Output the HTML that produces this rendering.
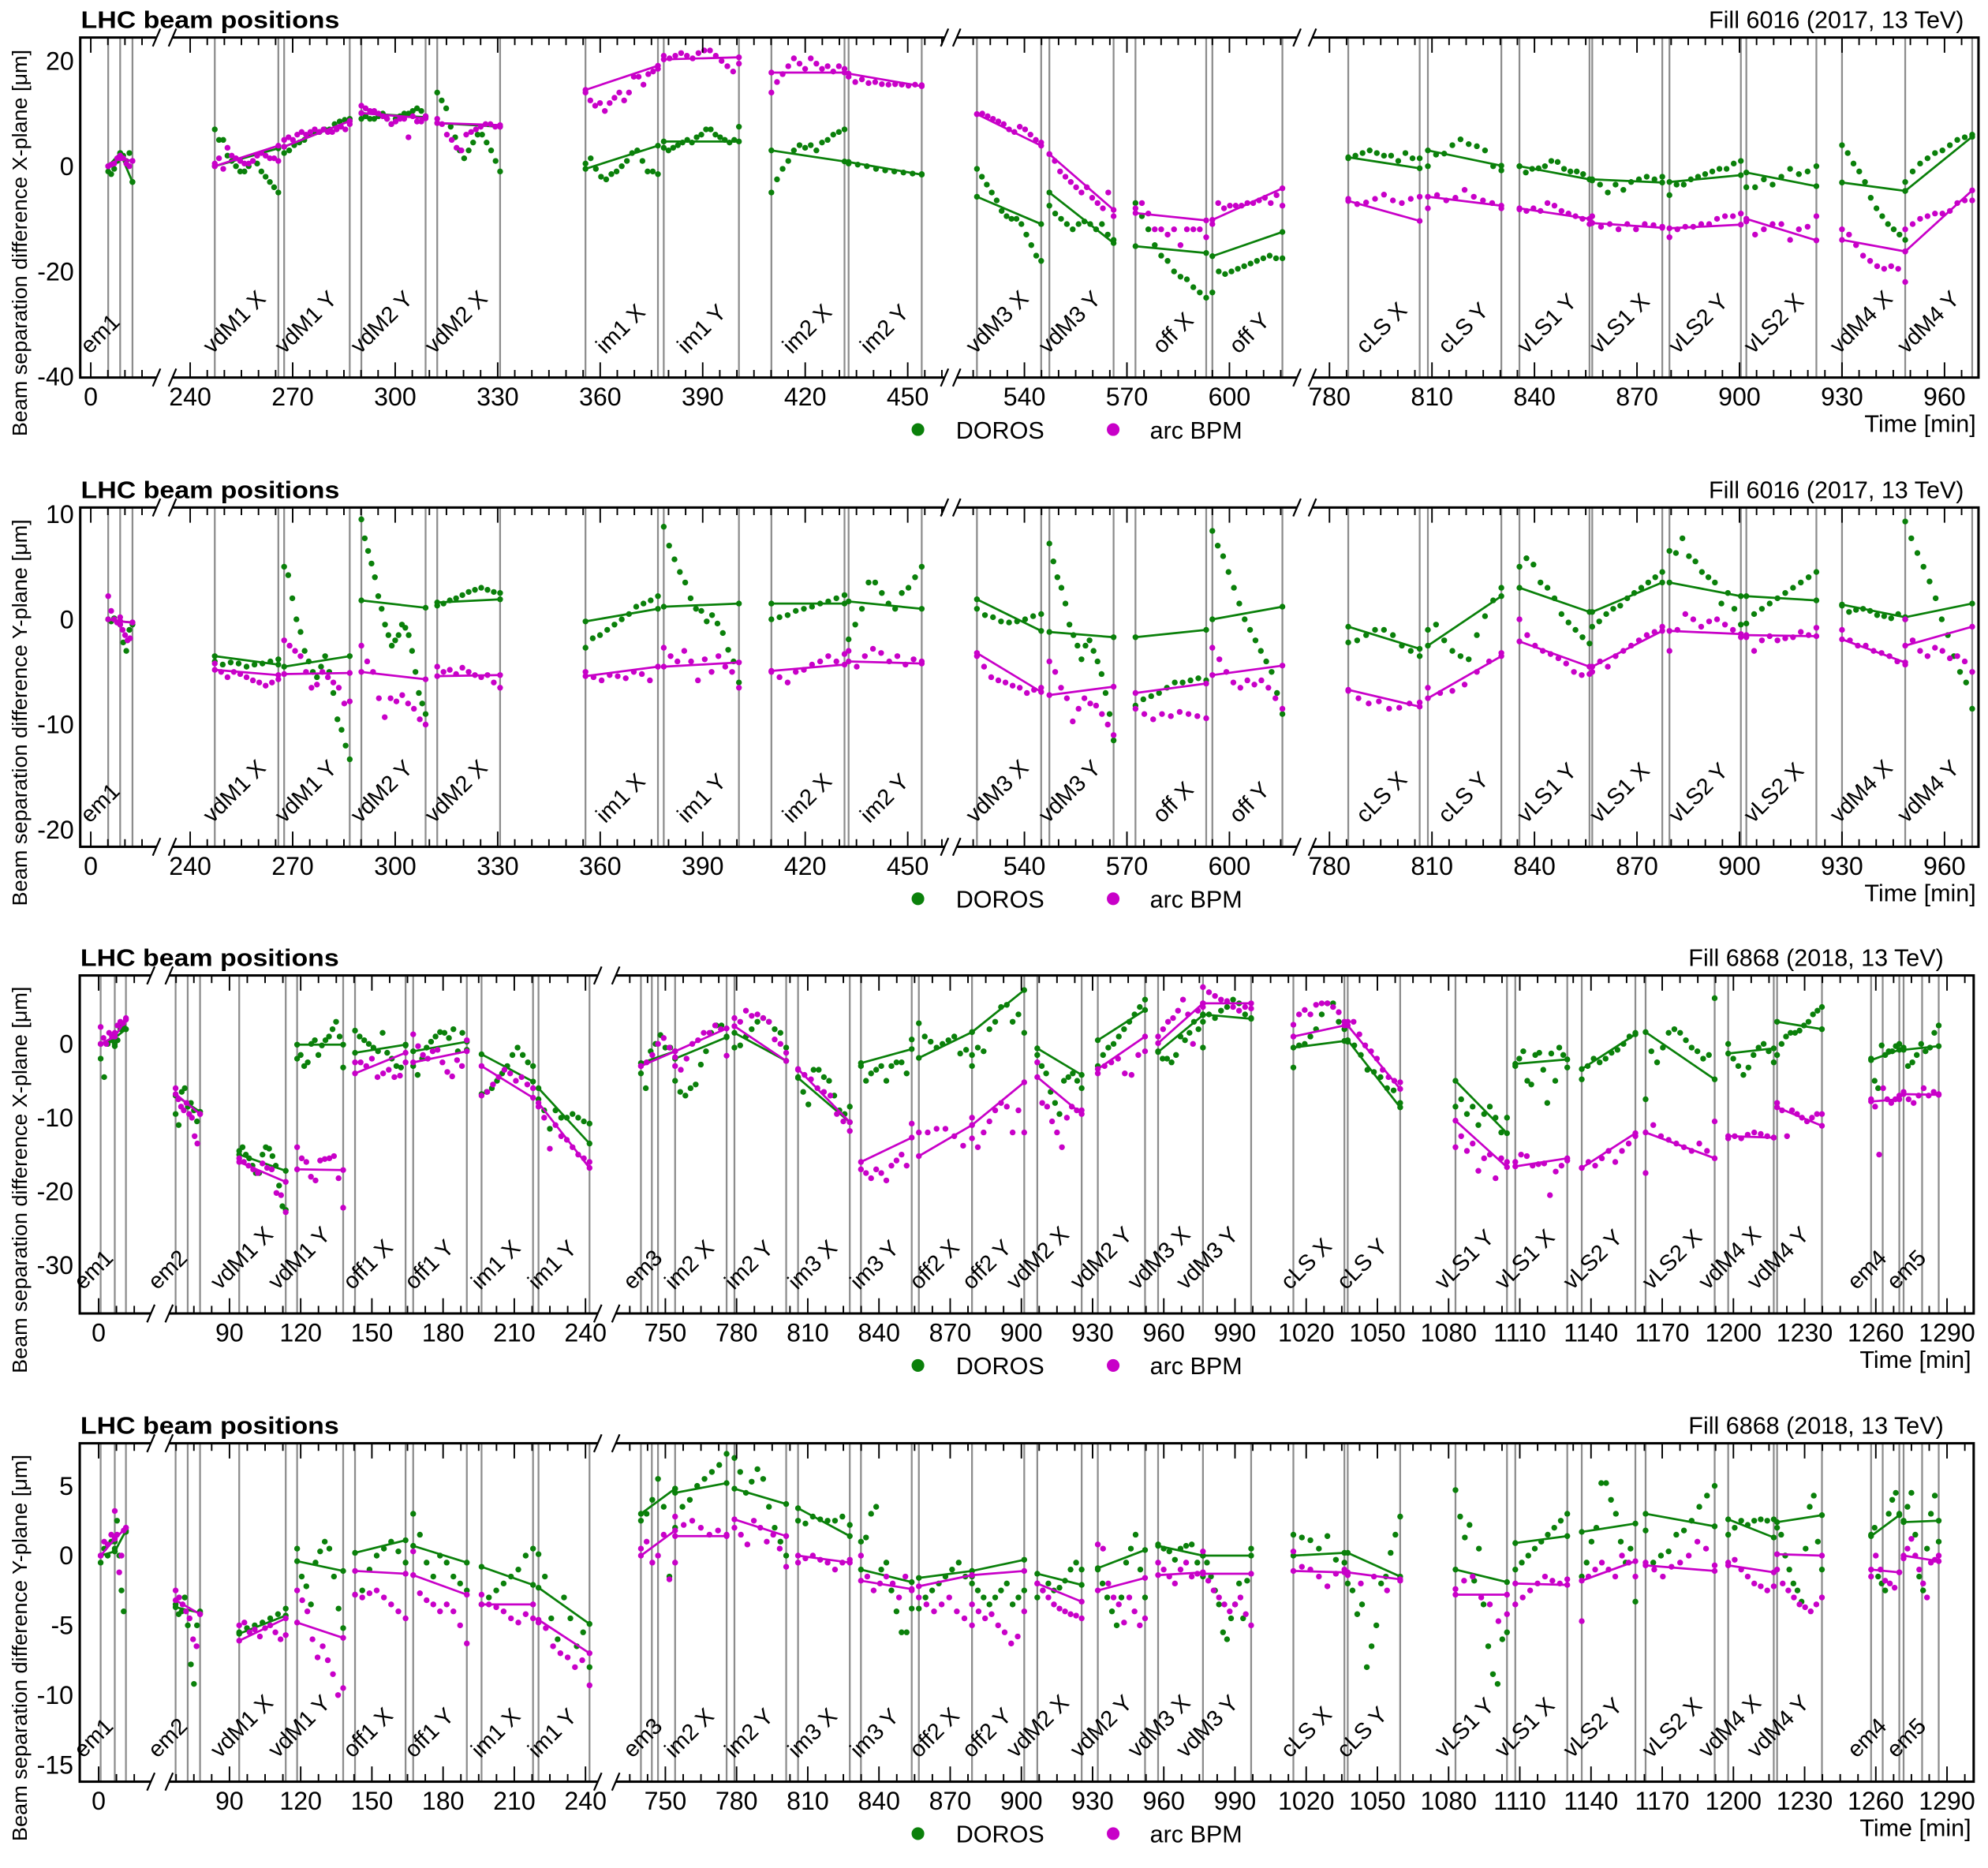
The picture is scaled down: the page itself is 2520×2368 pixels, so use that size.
<!DOCTYPE html>
<html><head><meta charset="utf-8"><title>LHC beam positions</title>
<style>
html,body{margin:0;padding:0;background:#fff;}
svg{display:block;font-family:"Liberation Sans",Arial,sans-serif;}
</style></head>
<body>
<svg id="chart" xmlns="http://www.w3.org/2000/svg" width="2520" height="2368" viewBox="0 0 1568 1473.4" preserveAspectRatio="none"></svg>
<script>
// ---------- Fill 6016 scans (minutes) ----------
const F1_t0=[5.1,8.6,247.2,267.5,290.1,312.3,355.7,378.6,410.1,432.7,526.1,547.3,572.5,595,785.5,808.8,835.6,856.9,879.5,902,930,948.5];
const F1_t1=[8.6,12.2,265.8,286.7,308.9,330.7,376.9,400.6,431.5,454.1,544.9,566.1,593.2,615.5,806.4,830.3,856.1,877.4,900.4,922.5,948.5,968.1];
const F1_lab=["","em1","vdM1 X","vdM1 Y","vdM2 Y","vdM2 X","im1 X","im1 Y","im2 X","im2 Y","vdM3 X","vdM3 Y","off X","off Y","cLS X","cLS Y","vLS1 Y","vLS1 X","vLS2 Y","vLS2 X","vdM4 X","vdM4 Y"];
const F1_vlines=[5.1,8.6,12.2,247.2,265.8,267.5,286.7,290.1,308.9,312.3,330.7,355.7,376.9,378.6,400.6,410.1,431.5,432.7,454.1,526.1,544.9,547.3,566.1,572.5,593.2,595,615.5,785.5,806.4,808.8,830.3,835.6,856.1,856.9,877.4,879.5,900.4,902,922.5,930,948.5,968.1];
// ---------- Fill 6868 scans ----------
const F2_t0=[0.85,6.8,67.3,94.1,118.5,142.9,167.4,196.2,220.2,739.7,754.1,779.1,805.9,832.4,856.8,879.2,906.7,932.2,957.6,976.5,1014.6,1037.5,1082.9,1108.1,1136.1,1163,1197.8,1218.4,1258,1271.7];
const F2_t1=[6.8,11.5,77.6,113.7,137.9,164.2,190,217.9,241.7,754.1,775.8,800.9,827.7,853.8,879.2,901.2,925.4,952.1,976.5,996.8,1036.1,1059.6,1104.6,1130,1158.7,1192.1,1217,1237.3,1269.9,1286.5];
const F2_lab=["","em1","em2","vdM1 X","vdM1 Y","off1 X","off1 Y","im1 X","im1 Y","em3","im2 X","im2 Y","im3 X","im3 Y","off2 X","off2 Y","vdM2 X","vdM2 Y","vdM3 X","vdM3 Y","cLS X","cLS Y","vLS1 Y","vLS1 X","vLS2 Y","vLS2 X","vdM4 X","vdM4 Y","em4","em5"];
const F2_vlines=[0.85,6.8,11.5,67.3,72.4,77.6,94.1,113.7,118.5,137.9,142.9,164.2,167.4,190,196.2,217.9,220.2,241.7,739.7,744.3,746.9,754.1,775.8,779.1,800.9,805.9,827.7,832.4,853.8,856.8,879.2,901.2,906.7,925.4,932.2,952.1,957.6,976.5,996.8,1014.6,1036.1,1037.5,1059.6,1082.9,1104.6,1108.1,1130,1136.1,1158.7,1163,1192.1,1197.8,1217,1218.4,1237.3,1258,1262.9,1269.9,1271.7,1279.5,1286.5];

// ---------- Panel 1: X-plane, fill 6016 ----------
const P1_dLine=[[0,2.5],[2.5,-3],[0,3.4],[3.7,8.6],[10.1,9.3],[8.2,7.5],[-0.5,3.9],[4.7,4.7],[3,0.9],[0.8,-1.6],[-5.8,-11],[-5,-14.6],[-15.2,-16.5],[-17.1,-12.5],[1.7,-0.4],[3,0.1],[0,-2.5],[-2.5,-3.1],[-3,-1.7],[-1.2,-3.8],[-3.1,-4.7],[-4.7,5.6]];
const P1_bLine=[[0,1.5],[1.5,1],[0,3.9],[3.7,8.6],[10.1,9.1],[8.2,7.8],[14.5,19.1],[20.3,20.7],[17.8,17.8],[17.6,15.2],[9.9,3.9],[2.3,-8.3],[-8.9,-10.3],[-10.2,-4.2],[-6.6,-10.4],[-5.8,-7.5],[-8,-10],[-10.8,-11.7],[-11.8,-11.1],[-10,-14.1],[-14,-16.2],[-16.2,-4.6]];
const P1_dor=[[-1,-1.5,-0.5,1,2.5],[1.5,2,1,2.5,-3],[7,5,5,2,1,0,-1,-1,0,1,0.5,-1,-2,-3,-4,-5],[2.5,3,4,4.5,5,6,6.5,6.5,7,7,8,8.5,8.8,9],[9,9.5,9,9,9.5,10,9,8,9,9.5,10,10,10.5,11,10.5,9.5],[14,12.5,11,7.5,5.5,3,1.5,3,4.5,6,6,4.5,3,1,-1],[0.5,1.5,-0.5,-2,-2.5,-1.5,-1,0,1,2.5,3,1,-1,-1,-1.5],[3.5,3,3.5,4,4.5,5,4.5,5.5,6,7,7,6,5.5,5,4.5,5,7.5],[-5,-2.5,-0.5,1,3,4,3.5,4,3,4.5,5,6,6.5,7],[0.5,0.3,0,-0.5,-0.8,-1,-1.2,-1.4,-1.5],[-0.5,-2,-3.5,-5,-6.5,-8.5,-9.5,-10,-10,-11,-13,-15,-17,-18],[-7.5,-9,-10,-11,-12,-11,-10.5,-11,-12,-11,-13,-14],[-7,-9.5,-12,-15,-17,-18,-20,-21,-21.5,-23,-24,-25],[-24,-20,-20.5,-20,-19.5,-19,-18.5,-18,-17.5,-17,-17.5,-17.5],[1.5,2,2.5,3,2.5,2,2,1,2.5,1.5,1.5],[0,2.2,2.4,4,5.1,4.2,3.8,3,0,-0.8],[0,-1.2,-0.5,-0.4,0,1,0.8,-0.5,-1,-1,-1.5,-2.5],[-2.7,-3.5,-5,-3.5,-4.5,-3,-2.5,-2,-2.5,-2],[-5.5,-3.5,-3.5,-2.5,-2,-1.5,-1,-0.5,-0.5,0.5,1],[-4,-4,-2.5,-3.5,-2,-0.5,-1.5,-1,0],[4,2.5,0.5,-1,-3,-6,-8,-9.5,-11,-12,-13,-14],[-3,-1,0.5,1.5,2.5,3,4,5,5.5,6]];
const P1_bpm=[[0,0.3,0.5,1.5,2],[1.5,1.5,0.5,0,1],[0.5,1.5,-0.5,3.5,2,1.5,1,0.5,0.5,1,2,2.5,2,1.5,1.5,1],[5,5.5,5,6,6.5,6,6.5,7,6.5,7,6.5,6.5,7,7.5,7,8],[11.5,11,10.5,10.5,10,9.5,9,8,8.5,9,9,5.5,9.5,8.5,8.5,9.5],[9,8,6,5,3.5,3,6,6.5,7,7.5,8,8,7.5,7.5],[14,12.5,11.5,12,10.5,12,13,14,12.5,14,17,17,15.5,17.5,18,18.5],[21,20.5,21,21.5,21,20.5,21.5,22,22,21,20,19,18,19.5],[14,16,17.5,19,20.5,19.5,18.5,20.5,19.5,18.5,19,18,19,18.5],[17,16,16.5,15.8,16,15.6,15.5,15.6,15.5,15.3,15.5,15.4],[9.9,10,9.5,9,8.5,8,7,6.5,7.5,7,6,5,4.5],[2.3,1,-1,-2,-3,-4,-5,-4,-6,-7,-8,-5,-9.5],[-8,-7,-9,-12,-12,-13,-12,-15,-12,-12,-12,-13.5],[-11,-7,-8,-7.5,-7.5,-7.5,-7,-7,-6.5,-6,-7,-5.5,-7.5],[-6.2,-7.2,-6.9,-6.2,-5.4,-6.5,-7,-6.2,-5.8],[-8,-5.5,-6.5,-6,-4.5,-5.8,-6.5,-7,-8],[-8.2,-8.5,-8,-8.5,-7,-7.5,-8.5,-9,-9.5,-10,-11],[-9.5,-11.5,-11,-12,-11,-12,-11,-11.2,-11.5],[-13.5,-12,-11.5,-11.5,-11,-11,-10,-9.5,-9.5,-9],[-10.5,-13,-12,-11,-11,-14,-12,-11.5,-9.5],[-12,-13,-15,-17,-18,-19,-19.5,-19,-19.5,-22],[-12,-11,-10,-9.5,-9,-9,-8.5,-7,-6.5,-6.5]];

// ---------- Panel 2: Y-plane, fill 6016 ----------
const P2_dLine=[[0,-0.2],[-0.2,-0.3],[-3.5,-4.3],[-4.5,-3.5],[1.8,1.1],[1.6,1.9],[-0.2,1],[1.2,1.5],[1.5,1.5],[1.7,1],[1.9,-1.1],[-1.2,-1.7],[-1.7,-1],[0,1.2],[-0.7,-2.8],[-2.5,2.2],[3,0.7],[0.7,3.5],[3.5,2.2],[2.2,1.8],[1.4,0.2],[0.2,1.5]];
const P2_bLine=[[0,-0.2],[-0.2,-0.3],[-4.8,-5.3],[-5.2,-5.1],[-5,-5.7],[-5.4,-5.3],[-5.4,-4.5],[-4.5,-4.1],[-4.9,-4.3],[-4,-4.2],[-3.2,-6.9],[-7.2,-6.4],[-7,-6.1],[-5.3,-4.4],[-6.7,-8.3],[-7.5,-3.5],[-2.1,-4.5],[-4.5,-1.1],[-1.1,-1.4],[-1.5,-1.6],[-1.9,-4.1],[-2.5,-0.7]];
const P2_dor=[[0,-0.2,0.1,-0.3,-0.2],[-0.5,-2.2,-3,-1,-0.5],[-4,-4.3,-4.1,-4.2,-4.5,-4.3,-4.2,-4,-3.8],[5,4.2,2,0,-1.2,-3,-4,-5,-5.5,-4.5,-3.5,-5,-7,-9.5,-10.5,-12,-13.3],[9.5,7.7,6.5,5.3,4,2.2,1,-0.5,-1.5,-2.5,-2,-1.5,-0.5,-0.8,-1.5,-3,-5,-7,-8,-9],[1.3,1.5,1.8,2,2.3,2.6,2.8,3,2.8,2.6,2.5],[-2.7,-1.8,-1.5,-1,-0.5,0,0.5,1.2,1.5,1.8,2.2],[8.8,7,5.7,4.5,3.5,2,1,0.8,-0.2,0.4,-0.4,-1.3,-2.9,-4,-6],[0,0.2,0.4,0.8,1,1.2,1.5,1.7,2,2.3],[-1.9,-0.5,1,3.5,3.5,2.5,1.5,1,2.5,3,4,5],[1,0.4,0.2,-0.2,-0.3,-0.2,0,0.3,0.5],[7.2,5.5,4,3,1.5,-0.5,-1.5,-2.5,-3.8,-2.5,-2,-3,-4,-5.2,-7,-9,-11.5],[-8.2,-7.6,-7.3,-7,-6.5,-6,-6,-5.8,-5.6,-5.8],[8.4,7,6,4.5,3,1.5,0,-1,-2,-3,-4,-5,-7,-9],[-2.2,-2,-1.5,-1,-1,-1.5,-2.5,-3,-3.5],[-1,-0.5,-2,-3,-3.5,-3.8,-1.5,0.3,1.8,3],[5,5.8,5.2,3.5,3,2,0.5,-0.3,-1,-1.7,-2.3],[-0.7,-0.2,0.5,1,1.3,2,2.5,3,3.5,4,4.5],[6.5,6.3,7.7,6,5.5,4.5,4,3.5,1.5,2.5,1,-0.5],[-0.4,0.5,1,1.5,2,2.5,3,3.5,4,4.5],[1.3,0.7,0.9,1,0.8,0.4,0.3,0.1,0.5,0],[9.3,7.7,6.3,5,3.6,2,0,-1.5,-3.5,-5,-6,-8.5]];
const P2_bpm=[[2.2,0.8,0,-0.3,0.2],[-0.5,-1,-1.5,-2,-1.8,-0.3],[-4.2,-5,-5.5,-5,-5.2,-5.5,-5.8,-6,-6.3,-6,-5.7],[-2,-2.5,-3,-3.5,-5,-6.5,-6.2,-5,-5.5,-6,-6.5,-8,-7.8],[-2.5,-4,-5,-7.5,-9.3,-7.5,-7.8,-7.2,-8,-8.5,-9.5,-10],[-4.5,-5,-4.8,-5.2,-4.6,-5,-5.3,-5.5,-5.3,-6,-6.5],[-5,-5.5,-5.8,-5.3,-5.4,-5.6,-5,-5.2,-5.8,-4.5],[-2.7,-3.5,-4,-3,-4,-5.8,-3.8,-5,-3.5,-4.5,-5,-6.5],[-5,-5.5,-6,-5,-4.8,-4.3,-4,-3.5,-4,-3.3],[-3,-4.5,-3.5,-2.8,-3.2,-4,-3.5,-4.3,-3.8,-4],[-3.5,-4.5,-5.5,-5.8,-6,-6.3,-6.5,-7,-6.7,-6.5],[-4,-5,-6.5,-7.5,-9.7,-8.5,-7.5,-8,-8.2,-9,-10,-11],[-8.5,-9,-9.5,-9,-9.2,-8.8,-9,-9.2,-9.4],[-2.7,-3.8,-5,-6,-6.5,-5.8,-6.2,-5.8,-6.5,-7.5,-8.5],[-6.8,-7.5,-8,-7.8,-8.5,-8.4,-8,-7.9],[-6.5,-7,-6.8,-6.2,-5,-4,-3.2],[0,-1.5,-2.5,-3,-3.3,-3.7,-4.2,-5,-5.3,-5.2],[-5,-4,-4.5,-3.5,-3,-2.5,-2,-1.5,-1.2,-0.7],[-3,-1,0.5,0,-0.7,-0.2,0,-0.5,-1,-1.7],[-1.7,-3,-2,-1.6,-2,-1.8,-1.7,-1.2,-1.5,-0.8],[-1,-2,-2.5,-2.5,-3,-3.2,-3.5,-4,-4.3],[0,-2,-3,-3.5,-2.7,-3,-3.7,-3.5,-4,-5]];

// ---------- Panel 3: X-plane, fill 6868 ----------
const P3_dLine=[[0,0.8],[0.8,2],[-7,-9.2],[-15,-17.2],[-0.1,-0.1],[-1.2,-0.1],[-1,0.3],[-1.4,-5.1],[-6,-13.5],[-2.6,-1],[-2,0.9],[1.5,-2.3],[-4.6,-10.6],[-2.6,-0.7],[-1.9,1.6],[1.6,7.3],[-0.6,-4.2],[0.5,4.6],[-1.1,3.9],[4,3.4],[-0.5,0.4],[0.5,-8.6],[-5,-12.1],[-2.7,-2.1],[-3.4,1.3],[1.6,-4.8],[-1.3,-0.6],[3,2],[-2.2,-0.8],[-0.8,-0.3]];
const P3_bLine=[[0,1],[1,3.3],[-6.8,-9.5],[-16,-18.7],[-17,-17.1],[-4,-1.2],[-2.5,-1],[-3,-7.3],[-8,-16.8],[-3,-1],[-1,2.1],[2.4,-2.3],[-3.4,-10.6],[-16,-12.7],[-15.2,-11],[-11,-5.2],[-4.5,-9.5],[-3.4,1],[0.1,5.5],[5.5,5.5],[1,2.5],[2.5,-6.1],[-10.4,-16.7],[-16.6,-15.5],[-16.8,-12.1],[-12,-15.5],[-12.5,-12.7],[-8.6,-11.1],[-7.8,-7.5],[-6.8,-6.9]];
const P3_dor=[[-2,-4.5,0,0.5,-0.3],[0,0.5,2,2.5,2],[-9.5,-11,-6.5,-6,-8.5,-8,-9,-10.5,-9.2],[-14.5,-14,-15,-15.5,-16.5,-17.5,-17.5,-15,-14,-14.2,-15.2,-16.5,-19.2,-22,-22.5],[-2,-1.5,-3,-2.5,0,0.5,-1.5,-0.2,0.5,1,2,3,1,-3.2],[1.8,1,0.5,0,-0.5,-1,1.5,-1.2,-2,-3,-3.2,-0.2],[-3,-4.2,-2,-0.5,0.3,1,1.6,1.5,0.8,2,-1,1.5,-0.8],[-6.8,-6.5,-6,-5,-4,-3,-1.5,-0.5,-1.5,-2.5,-3],[-7.5,-9,-11.5,-9,-10,-10,-9.5,-10,-10.5,-10.8],[-4,-6,-1,0,1.2,-0.5,-0.5,-1],[-5,-6.5,-7,-6,-5.5,-2.8,-1,1.5,2.5,2.5,1],[-0.5,-0.2,1,2,3,3.5,3,2,1.5,-0.5],[-4.5,-6.5,-8.2,-3.5,-3.5,-4.5,-5,-7,-9,-9.5,-8.5],[-3,-5,-4,-3.5,-3,-5,-3,-2.5,-2.5,-4,0.6],[2.8,1,0.3,-0.5,0,0.5,1,-1.3,-0.8,-1.5],[-3,-0.5,-1,2,3,5,5.3,3,4,1.5],[-1.5,-3,-4,-6.5,-8,-9.5,-5,-4.5,-4,-5,-6],[-3,-1.5,-0.5,0,1,2,3,4,5,6],[-1,-2,-2,-2.5,-1.5,1,0.5,1.5,3,2,-0.5],[3,4,3.5,4.5,5,6,5.5,4,3.5],[-3.2,-0.2,0,1,2,4,5.5,5.5,3,2],[0.3,-0.2,-1.5,-3.5,-3.8,-4.5,-6,-6.3,-8],[-8.5,-7.5,-9.5,-8.5,-11,-9.5,-8.5,-10,-12,-10],[-3,-2,-1,-5,-5.5,-1.5,-1.2,-3.5,-8,-1.3,-5,-0.5,-1.5,-3.2],[-4.8,-3,-2,-2.5,-2,-1.2,-0.8,0,1,1.5],[-7.5,-1,-2.5,-0.5,1.5,2,1.5,0.5,-0.5,-1,-2,-1.5,6.2],[0,-2,-3,-4.2,-3.2,-1.5,-0.5,0,-1,-2.5],[-1.5,0,1,1.5,1.5,1.8,2.5,3,4,4.5,5],[-2,-5,-6,-0.2,-1.5,-1,-1,-0.3,0],[-0.5,-3,-2.5,-1.5,0,-1,-0.5,1.5,2.5]];
const P3_bpm=[[2.3,0.8,0,1.5,1,1],[1.5,2.5,3,2.8,3.5],[-6,-7.5,-8.5,-9,-8,-9.5,-10,-12.5,-13.5,-9.5],[-15.5,-16,-16.5,-17,-17.5,-16.2,-16.8,-17,-20.2,-20.5,-22.8],[-14,-15.5,-16,-18,-18.5,-15.8,-15.6,-15.5,-15.2,-18.2,-22.2],[-2.5,-2.5,-3,-2,-4.5,-4,-3.5,-4.5,-4.3,-2.5],[1.3,-0.3,-1.5,-2,-1,-0.8,-2.5,-3.8,-4.4,-2.2,-3,0.5],[-7,-6.5,-5.5,-4.5,-3.5,-4,-5,-4.5,-5.5,-6],[-8.5,-10,-14.2,-11,-12.5,-13,-14,-15,-15.5,-16],[-3,-2.5,-1.5,0,0.8,-0.5,-1.8],[-3,-3.5,-2,0,0.5,1.5,1.5,2.5,2,-1.6],[3.5,3,4.5,3.8,4,3.5,3,0.6,0,-1.2],[-3.5,-4.2,-4.8,-6,-6.5,-7,-9.5,-10.5,-11.8],[-17,-17.5,-18.2,-17,-17.5,-18.5,-16.5,-15.8,-15,-16.5,-10.8],[-12,-12,-11.5,-11.5,-12.5,-13.8,-12.8],[-10,-14,-12,-10.5,-9,-8,-8.5,-12,-9,-12],[-2.5,-8,-8.5,-10.5,-12,-14,-10,-8.5,-9,-9],[-4,-3,-2.5,-2,-4,-4.2,-1.5,-1],[1,2,3,3.5,4.5,6,4,0,4.5,5],[7.7,7,6.5,6,5.8,5,4.5,5,4.8],[2.6,4,4.6,4,5.3,5.5,5.5,5,4.3,3],[3,3,1.3,-0.2,-1,-2,-3.5,-4.5,-5,-5.2],[-14,-12.5,-14.5,-13.5,-17.2,-15.5,-15,-18.2,-15.5,-16],[-16,-15,-15.2,-16.5,-16.3,-16.2,-20.5,-17.3,-16.5,-15.8],[-16.8,-16,-16.5,-15.5,-14.5,-16,-14.5,-13.5,-12.5],[-17.5,-11,-12.5,-13,-13.5,-14,-14.5,-13.5,-14.5,-10.5],[-12.8,-12.5,-12.8,-12.3,-12,-12.2,-12.5,-12.7],[-8,-9,-12.5,-9,-9.5,-10,-10.5,-10,-9.5,-9.5],[-7.5,-8.5,-15,-6,-7.5,-8,-7.5,-7],[-6.5,-7.5,-8,-7,-6,-7,-6.5,-6.8]];

// ---------- Panel 4: Y-plane, fill 6868 ----------
const P4_dLine=[[0,0.3],[0.3,1.8],[-3.7,-4.1],[-5.6,-4.3],[-0.4,-1.1],[0.2,1.1],[0.7,-0.5],[-0.8,-2.1],[-2.3,-4.9],[3,4.8],[4.5,5.2],[4.8,3.7],[3.4,1.4],[-1,-1.9],[-1.6,-1.1],[-1.1,-0.3],[-1.3,-2.1],[-0.9,0.4],[0.7,0],[0,0],[0,0.2],[0.2,-1.5],[-1,-1.9],[0.9,1.4],[1.7,2.3],[3,2.1],[2.6,1.3],[2.4,2.9],[1.4,2.9],[2.4,2.5]];
const P4_bLine=[[0,1.2],[1.2,2],[-3.2,-4.2],[-6.1,-4.5],[-4.8,-5.9],[-1.1,-1.3],[-1.4,-2.8],[-3.5,-3.5],[-4.6,-7],[0,1.8],[1.4,1.4],[2.6,1.4],[0,-0.5],[-1.8,-2.4],[-2.2,-1.4],[-1.4,-1.1],[-2,-3.3],[-2.5,-1.6],[-1.4,-1.2],[-1.3,-1.3],[-1.1,-1.2],[-1.2,-1.7],[-2.8,-2.8],[-2,-2.1],[-1.8,-0.4],[-0.7,-1.1],[-0.7,-1.2],[0.1,0],[-1,-1.2],[0,-0.4]];
const P4_dor=[[-0.5,0.5,0,1,0.5],[1,2.5,0,-2.5,-4,1.7],[-3.5,-4.2,-4,-3,-5,-7.8,-9.2,-5,-4],[-5.5,-5.2,-5,-4.8,-4.5,-4.2,-3.8],[0.5,-1.5,-2.2,-3.5,-0.5,0.3,1,0.5,-1.5,-3.8,-5.2],[-2.8,-2.5,-1,0,0.5,1,0.3,-0.5],[3,1.5,-0.5,-1.5,0,-0.5,-1.5,-2,-2.5],[-3.5,-3,-2.5,-2,-1.5,-1,0,0.5],[0.1,-1.5,-4.5,-6,-3,-4.5,-6.5,-5.5,-8],[2.5,3,4,5.5,3.5,-1.5,4.8],[2,3.5,4,5,5.5,6,6.5,7.3],[7,6,4.5,5.3,6.2,5.5,3.5,2,1,0],[2.5,2.3,2.8,2.6,2.5,2.5,2.8,2.2],[1,1.3,3,3.5,-1,-0.5,-2.5,-4,-5.5,-5.5,-3.8],[-3.8,-3,-2.5,-2,-1.5,-1,-0.5,-1.5,-2],[-1.5,-2.5,-3,-3.5,-3,-2.5,-2,-3.5,-3,-2.5],[-3,-2.5,-2,-2.5,-2.3,-1.8,-1,-0.5,-1],[-1,-2,-3,-4,-5,-3,-0.5,0.5,1.5,-1,-3],[0.8,0.5,0.3,-0.3,0.5,0.7,0.8,-0.5,-1.5],[0,-0.5,-1.5,-2.5,-3.5,-5.5,-6,-4.5,-3.5,-2,-4.5,-1.8,0.5],[1.5,1.3,1.1,0.5,1.4,-0.3,-0.5],[-2,-2.5,-4.2,-3.5,-8,-6.5,-5,-2,-1.5,0.2,1.5,2.8],[4.7,2.8,1.3,2.2,-1.8,0.5,-3.5,-6.5,-8.5,-9.2,-6,-5.5],[-1,-0.5,0,0.5,1,1.5,2,2.5,3],[-1.5,-0.5,1,2,5.2,5.2,4,3,1,-0.5,0.5,-3.3],[1.8,-0.5,0,0.3,1.5,1.8,2.5,3.5,4.3,5],[1.5,2,2.5,2.2,2.5,2.6,2.5,2.6],[2,1.5,0,-1,-2,-2.5,-3.3,0.5,3.5,4.3,1,-1],[1.5,2,-1.5,-2,-2.5,3,4,4.5,3],[2.5,3.5,4.5,1.5,-1.5,-2.5,0.5,3,4.3,1]];
const P4_bpm=[[0,1,0.8,1.5,1.3],[3.2,1.5,-1.2,0,1.8,2],[-2.5,-3,-3.5,-4,-4.5,-6,-6.5,-4.2],[-5,-4.8,-5.5,-5.3,-5.8,-5.2,-5,-5.5,-6,-5.7],[-2.5,-3.2,-4,-6,-7.3,-6.5,-7.5,-8.5,-10,-9.5],[-2.8,-3,-2.7,-2.5,-3,-3.5,-4,-4.5],[0.3,-2.7,-3.2,-3.5,-4,-3.5,-4,-5,-6.3],[-2.8,-3.5,-3.7,-4,-4.5,-4.8,-4.2,-4.5],[-4.8,-5.2,-6.5,-7,-7.3,-8,-7.5,-9.3],[0.5,1,-0.5,0,1.5,-1.7,-0.5],[2.8,2.2,2.5,2,1.5,1.8,1.5],[2,1.5,0.8,2.5,2,1,1.5,0.5,-0.8],[-0.5,-0.2,0,-0.3,-0.5,-1,-0.5,-0.3],[0,-1.5,-2.5,-2,-1.5,-2,-3,-1.5,-2.5],[-3,-3.5,-4,-3.5,-3,-4,-4.5,-5],[-3.5,-4,-4.5,-4.2,-5,-5.5,-6.3,-5.8,-4],[-2,-2.5,-3,-3.5,-3.8,-4,-4.2,-4.3,-4.5],[0.8,0.5,-2,-3,-3.5,-4.8,-3,-4,-5,-4.5],[-0.5,-1,-1.5,-2,-1,-0.5,-1.5,-1.3,-1.2],[0.3,-1.8,-2.5,-3,-3.5,-4,-3.5,-3,-4.2,-5],[0.3,-0.8,-1,-1.5,-2.2,-1.3,-1],[-1.4,-2,-1.5,-2.5,-1.8],[-2.4,-1.8,-1.5,-3,-3.5,-4.7,-4.2],[-3.5,-3,-2.5,-2,-1.5,-1.8,-2,-1.7],[-4.7,-1.5,-1,-0.5,-1,-1.5,0,-0.5,-1.5],[-0.5,-1,-1.5,-0.8,-0.5,0,1,0.5,-0.7],[-0.5,-0.3,-1,-1.5,-2,-2.2,-2.5,-2.2],[-1,-2,-2.5,-3,-3.5,-3.7,-4,-3.5,-3],[-1.5,0,-1,-1.8,-2,-2.3,-1.2],[-0.2,0.5,1.2,0,-1,-2,-3,-0.5,-0.3,0]];

// ---------- Axis tick values ----------
const P1_yTicks=[20,0,-20,-40];
const P2_yTicks=[10,0,-10,-20];
const P3_yTicks=[0,-10,-20,-30];
const P4_yTicks=[5,0,-5,-10,-15];

const NS="http://www.w3.org/2000/svg";
const svg=document.getElementById('chart');
const GREEN="#0a800a", MAG="#c800c8";
function el(tag,attrs,parent){const e=document.createElementNS(NS,tag);for(const k in attrs)e.setAttribute(k,attrs[k]);(parent||svg).appendChild(e);return e;}

const fill1Segs=[{m0:0,x0:71.6,xa:63.3,xb:123.5},{m0:240,x0:150,xa:136,xb:745},{m0:540,x0:808,xa:754.6,xb:1023},{m0:780,x0:1048.6,xa:1035.1,xb:1560.5}];
const fill2Segs=[{m0:0,x0:77.8,xa:62.9,xb:119},{m0:90,x0:181,xa:133.4,xb:471.5},{m0:750,x0:524.8,xa:485.7,xb:1556.7}];

const panels=[
 {id:1,top:29.6,bot:297.8,left:63.3,right:1560.5,y0:131.1,ppu:4.15,yMaj:20,yMin:5,yTicks:P1_yTicks,segs:fill1Segs,k:2.695,xMin:5,
  t0:F1_t0,t1:F1_t1,lab:F1_lab,vl:F1_vlines,dL:P1_dLine,bL:P1_bLine,d:P1_dor,b:P1_bpm,
  fillTxt:"Fill 6016 (2017, 13 TeV)",fillEnd:1549,ytitle:"Beam separation difference X-plane [μm]",breaks:[[123.5,136],[745,754.6],[1023,1035.1]]},
 {id:2,top:400.3,bot:667.9,left:63.3,right:1560.5,y0:488.5,ppu:8.3,yMaj:10,yMin:2,yTicks:P2_yTicks,segs:fill1Segs,k:2.695,xMin:5,
  t0:F1_t0,t1:F1_t1,lab:F1_lab,vl:F1_vlines,dL:P2_dLine,bL:P2_bLine,d:P2_dor,b:P2_bpm,
  fillTxt:"Fill 6016 (2017, 13 TeV)",fillEnd:1549,ytitle:"Beam separation difference Y-plane [μm]",breaks:[[123.5,136],[745,754.6],[1023,1035.1]]},
 {id:3,top:769.4,bot:1036,left:62.9,right:1556.7,y0:823.4,ppu:5.82,yMaj:10,yMin:2,yTicks:P3_yTicks,segs:fill2Segs,k:1.872,xMin:7.5,
  t0:F2_t0,t1:F2_t1,lab:F2_lab,vl:F2_vlines,dL:P3_dLine,bL:P3_bLine,d:P3_dor,b:P3_bpm,
  fillTxt:"Fill 6868 (2018, 13 TeV)",fillEnd:1533,ytitle:"Beam separation difference X-plane [μm]",breaks:[[119,133.4],[471.5,485.7]]},
 {id:4,top:1138.4,bot:1405.3,left:62.9,right:1556.7,y0:1227,ppu:11,yMaj:5,yMin:1,yTicks:P4_yTicks,segs:fill2Segs,k:1.872,xMin:7.5,
  t0:F2_t0,t1:F2_t1,lab:F2_lab,vl:F2_vlines,dL:P4_dLine,bL:P4_bLine,d:P4_dor,b:P4_bpm,
  fillTxt:"Fill 6868 (2018, 13 TeV)",fillEnd:1533,ytitle:"Beam separation difference Y-plane [μm]",breaks:[[119,133.4],[471.5,485.7]]}
];

function makeX(p){return function(m){let best=p.segs[0];for(const s of p.segs){const ma=s.m0+(s.xa-s.x0)/p.k;if(m>=ma-0.01)best=s;}return best.x0+(m-best.m0)*p.k;};}

panels.forEach(p=>{
  const X=makeX(p); const Y=v=>p.y0-v*p.ppu;
  const g=el('g',{});
  
  
  const t1=el('text',{x:p.left+0.5,y:p.top-7.5,'font-size':19,'font-weight':'bold',textLength:204,lengthAdjust:'spacingAndGlyphs'},g);
  t1.textContent="LHC beam positions";
  
  
  const t2=el('text',{x:p.fillEnd,y:p.top-7.5,'font-size':19,'text-anchor':'end'},g);
  t2.textContent=p.fillTxt;
  
  
  const cy=(p.top+p.bot)/2+28;
  const yt=el('text',{x:0,y:0,'font-size':16,'text-anchor':'middle',transform:`translate(21,${cy}) rotate(-90)`,textLength:305,lengthAdjust:'spacingAndGlyphs'},g);
  yt.textContent=p.ytitle;
  
  
  const vg=el('g',{},g);
  
  
  p.vl.forEach(m=>{const x=X(m);const l=el('line',{x1:x,x2:x,y1:p.top,y2:p.bot,stroke:'#8c8c8c','stroke-width':1.4},vg);
    
    });
  const lg=el('g',{},g);
  
  
  const ang=45, a=ang*Math.PI/180;
  p.lab.forEach((txt,i)=>{ if(!txt)return;
    const t=el('text',{x:0,y:0,'font-size':18},lg); t.textContent=txt;
    
    
    let len=txt.length*9.8; try{const L=t.getComputedTextLength(); if(L>0)len=L;}catch(e){}
    const xs=X(p.t1[i])-len*Math.cos(a)-9, ys=p.bot-18;
    t.setAttribute('transform',`translate(${xs},${ys}) rotate(${-ang})`);
  });
  const dg=el('g',{},g);
  
  
  const bg=el('g',{},g);
  
  
  function drawScan(grp,vals,line,i,col){
    const a0=p.t0[i], b0=p.t1[i], n=vals.length;
    vals.forEach((v,j)=>{const m=a0+(b0-a0)*(n>1?j/(n-1):0.5);
      const c=el('circle',{cx:X(m),cy:Y(v),r:2.3,fill:col},grp);
      
      });
    const l=el('line',{x1:X(a0),y1:Y(line[0]),x2:X(b0),y2:Y(line[1]),stroke:col,'stroke-width':1.7},grp);
    
    
    [[a0,line[0]],[b0,line[1]]].forEach(q=>{const c=el('circle',{cx:X(q[0]),cy:Y(q[1]),r:2.3,fill:col},grp);
      
      });
  }
  p.t0.forEach((_,i)=>{drawScan(dg,p.d[i],p.dL[i],i,GREEN);});
  p.t0.forEach((_,i)=>{drawScan(bg,p.b[i],p.bL[i],i,MAG);});
  const fr=el('rect',{x:p.left,y:p.top,width:p.right-p.left,height:p.bot-p.top,fill:'none',stroke:'#000','stroke-width':1.9},g);
  
  
  const tg=el('g',{stroke:'#000','stroke-width':1.2},g);
  
  
  const vmin=(p.y0-p.bot)/p.ppu*-1, vmax=(p.y0-p.top)/p.ppu;
  for(let v=Math.ceil(vmin/p.yMin)*p.yMin; v<=vmax+1e-6; v+=p.yMin){
    const y=Y(v); const maj=Math.abs(v/p.yMaj-Math.round(v/p.yMaj))<1e-6; const L=maj?12:6;
    el('line',{x1:p.left,x2:p.left+L,y1:y,y2:y},tg); el('line',{x1:p.right,x2:p.right-L,y1:y,y2:y},tg);
  }
  p.yTicks.forEach(v=>{const t=el('text',{x:p.left-5,y:Y(v)+7,'font-size':20,'text-anchor':'end'},g);t.textContent=String(v);
    
    });
  const xg=el('g',{stroke:'#000','stroke-width':1.2},g);
  
  
  p.segs.forEach(s=>{
    const ma=s.m0+(s.xa-s.x0)/p.k, mb=s.m0+(s.xb-s.x0)/p.k;
    for(let m=Math.ceil(ma/p.xMin)*p.xMin; m<=mb; m+=p.xMin){
      const x=s.x0+(m-s.m0)*p.k; if(x<s.xa+1||x>s.xb-1)continue;
      const maj=Math.abs(m%30)<1e-6; const L=maj?12:6;
      el('line',{x1:x,x2:x,y1:p.bot,y2:p.bot-L},xg); el('line',{x1:x,x2:x,y1:p.top,y2:p.top+L},xg);
      if(maj){const t=el('text',{x:x,y:p.bot+22,'font-size':20,'text-anchor':'middle',stroke:'none',fill:'#000'},g);t.textContent=String(m);
        
        }
    }
  });
  p.breaks.forEach(bk=>{
    [p.top,p.bot].forEach(yy=>{
      el('rect',{x:bk[0],y:yy-3,width:bk[1]-bk[0],height:6,fill:'#fff'},g);
      bk.forEach(xx=>{const l=el('line',{x1:xx-3,y1:yy+7,x2:xx+3,y2:yy-7,stroke:'#000','stroke-width':1.4},g);
        
        });
    });
  });
  const xt=el('text',{x:p.right-2,y:p.bot+43,'font-size':19,'text-anchor':'end'},g);xt.textContent="Time [min]";
  
  
  const lgd=el('g',{},g);
  
  
  const ly=p.bot+41;
  const e1=el('g',{},lgd);
  
  
  el('circle',{cx:724,cy:ly,r:5,fill:GREEN},e1);
  const lt1=el('text',{x:754,y:ly+7,'font-size':19},e1);lt1.textContent="DOROS";
  const e2=el('g',{},lgd);
  
  
  el('circle',{cx:878,cy:ly,r:5,fill:MAG},e2);
  const lt2=el('text',{x:907,y:ly+7,'font-size':19},e2);lt2.textContent="arc BPM";
});
</script>
</body></html>
